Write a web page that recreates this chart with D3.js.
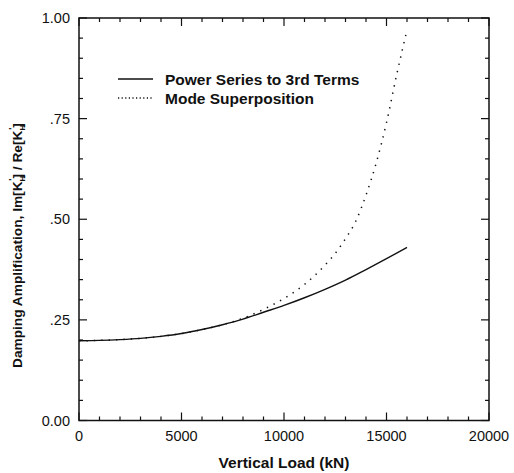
<!DOCTYPE html>
<html>
<head>
<meta charset="utf-8">
<script src="https://cdn.jsdelivr.net/npm/d3@7"></script>
<style>
  body { margin: 0; background: #fff; }
  text { font-family: "Liberation Sans", Arial, sans-serif; fill: #111; }
  .tick-label { font-size: 14.5px; }
  .label { font-size: 15.5px; font-weight: bold; }
  .ylabel { font-size: 13.7px; font-weight: bold; }
</style>
</head>
<body>
<svg id="chart"></svg>
<script>
// data
const loads = [0, 1000, 2000, 3000, 4000, 5000, 6000, 7000, 8000, 9000, 10000, 11000, 12000, 13000, 14000, 15000, 16000];
const powerSeries = [0.198, 0.199, 0.201, 0.204, 0.209, 0.216, 0.226, 0.238, 0.252, 0.269, 0.286, 0.305, 0.326, 0.349, 0.375, 0.402, 0.430];

const modeLoads = [0, 1000, 2000, 3000, 4000, 5000, 6000, 7000, 8000, 9000, 10000, 11000, 12000, 12500, 13000, 13500, 14000, 14500, 15000, 15500, 16000];
const modeSuperposition = [0.198, 0.199, 0.201, 0.204, 0.209, 0.216, 0.226, 0.238, 0.254, 0.276, 0.303, 0.338, 0.386, 0.415, 0.452, 0.495, 0.560, 0.640, 0.740, 0.860, 0.970];

const xTicks = [0, 5000, 10000, 15000, 20000];
const yTicks = [0, 0.25, 0.5, 0.75, 1.0];
const yTickLabels = ["0.00", ".25", ".50", ".75", "1.00"];

const seriesNames = ["Power Series to 3rd Terms", "Mode Superposition"];

const W = 514, H = 473;
const margin = { top: 18, right: 25, bottom: 52, left: 79 };
const width = 489 - margin.left;
const height = 420.5 - margin.top;

const svg = d3.select("#chart").attr("width", W).attr("height", H);
const chart = svg.append("g").attr("transform", `translate(${margin.left},${margin.top})`);

const xScale = d3.scaleLinear().domain([0, 20000]).range([0, width]);
const yScale = d3.scaleLinear().domain([0, 1]).range([height, 0]);

const xMinor = d3.range(0, 20001, 1000);
const yMinor = d3.range(0, 1.0001, 0.05);

// frame
chart.append("rect")
    .attr("width", width).attr("height", height)
    .attr("fill", "none").attr("stroke", "#111").attr("stroke-width", 1.5);

function isMajor(v, step) { return Math.abs(v / step - Math.round(v / step)) < 1e-6; }

// x ticks, bottom (inward) and top (inward)
chart.selectAll(".xtick-b").data(xMinor).join("line")
    .attr("x1", d => xScale(d)).attr("x2", d => xScale(d))
    .attr("y1", height).attr("y2", d => height - (isMajor(d, 5000) ? 8 : 4))
    .attr("stroke", "#111").attr("stroke-width", 1.2);
chart.selectAll(".xtick-t").data(xMinor).join("line")
    .attr("x1", d => xScale(d)).attr("x2", d => xScale(d))
    .attr("y1", 0).attr("y2", d => (isMajor(d, 5000) ? 8 : 4))
    .attr("stroke", "#111").attr("stroke-width", 1.2);

// y ticks, left and right (inward)
chart.selectAll(".ytick-l").data(yMinor).join("line")
    .attr("y1", d => yScale(d)).attr("y2", d => yScale(d))
    .attr("x1", 0).attr("x2", d => (isMajor(d, 0.25) ? 8 : 4))
    .attr("stroke", "#111").attr("stroke-width", 1.2);
chart.selectAll(".ytick-r").data(yMinor).join("line")
    .attr("y1", d => yScale(d)).attr("y2", d => yScale(d))
    .attr("x1", width).attr("x2", d => width - (isMajor(d, 0.25) ? 8 : 4))
    .attr("stroke", "#111").attr("stroke-width", 1.2);

// tick labels
chart.selectAll(".xlab").data(xTicks).join("text")
    .attr("class", "tick-label")
    .attr("x", d => xScale(d)).attr("y", height + 20)
    .attr("text-anchor", "middle")
    .text(d => d);

chart.selectAll(".ylab").data(yTicks).join("text")
    .attr("class", "tick-label")
    .attr("x", -9).attr("y", d => yScale(d) + 5)
    .attr("text-anchor", "end")
    .text((d, i) => yTickLabels[i]);

// curves
const line = d3.line().x(d => xScale(d[0])).y(d => yScale(d[1])).curve(d3.curveMonotoneX);

chart.append("path")
    .datum(loads.map((d, i) => [d, powerSeries[i]]))
    .attr("d", line)
    .attr("fill", "none").attr("stroke", "#111").attr("stroke-width", 1.4);

chart.append("path")
    .datum(modeLoads.map((d, i) => [d, modeSuperposition[i]]))
    .attr("d", line)
    .attr("fill", "none").attr("stroke", "#111").attr("stroke-width", 1.5)
    .attr("stroke-dasharray", "1.4,6");

// legend
const legend = svg.append("g").attr("transform", "translate(118,79)");
seriesNames.forEach((name, i) => {
    const g = legend.append("g").attr("transform", `translate(0,${i * 19})`);
    g.append("line")
        .attr("x1", 0).attr("x2", 35).attr("y1", 0).attr("y2", 0)
        .attr("stroke", "#111").attr("stroke-width", 1.3)
        .attr("stroke-dasharray", i === 1 ? "1.2,2.4" : null);
    g.append("text")
        .attr("class", "label")
        .attr("x", 47).attr("y", 5.5)
        .text(name);
});

// axis titles
svg.append("text")
    .attr("class", "label")
    .attr("x", margin.left + width / 2).attr("y", 468)
    .attr("text-anchor", "middle")
    .text("Vertical Load (kN)");

const yt = svg.append("text")
    .attr("class", "ylabel")
    .attr("transform", "translate(22,368) rotate(-90)")
    .attr("text-anchor", "start");
yt.append("tspan").text("Damping Amplification, Im[K");
yt.append("tspan").attr("dy", 3).style("font-size", "8px").text("H");
yt.append("tspan").attr("dy", -10).attr("dx", -5).style("font-size", "9px").text("'");
yt.append("tspan").attr("dy", 7).text("] / Re[K");
yt.append("tspan").attr("dy", 3).style("font-size", "8px").text("H");
yt.append("tspan").attr("dy", -10).attr("dx", -5).style("font-size", "9px").text("'");
yt.append("tspan").attr("dy", 7).text("]");
</script>
</body>
</html>
